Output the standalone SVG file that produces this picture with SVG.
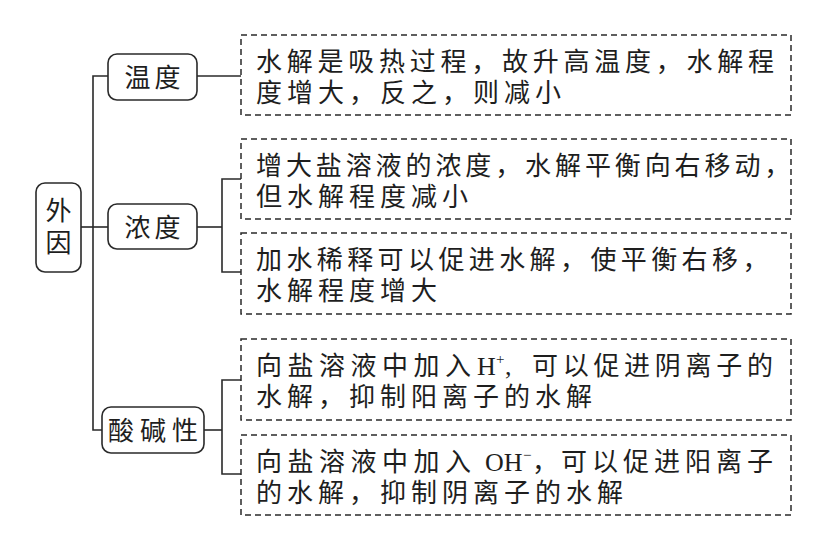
<svg xmlns="http://www.w3.org/2000/svg" width="818" height="546" viewBox="0 0 818 546">
<style>
  .bg { fill: #ffffff; }
  .lbl { fill: #ffffff; stroke: #2a2a2a; stroke-width: 1.6; }
  .dash { fill: none; stroke: #2a2a2a; stroke-width: 1.5; stroke-dasharray: 6 4; }
  .conn { fill: none; stroke: #2a2a2a; stroke-width: 1.6; }
  text { font-family: "Noto Sans CJK SC", "Noto Sans", sans-serif; font-size: 26px; fill: #1e1e1e; }
  .t { letter-spacing: 5px; }
  .mid { text-anchor: middle; }
  .lat { font-family: "Liberation Serif", "Times New Roman", serif; }
  .sup { font-family: "Liberation Serif", "Times New Roman", serif; font-size: 15px; }
</style>
<rect class="bg" x="0" y="0" width="818" height="546"/>

<g id="connectors">
  <path class="conn" d="M108,76 H93 V430 H102"/>
  <path class="conn" d="M81,227 H108"/>
  <path class="conn" d="M197,76 H241"/>
  <path class="conn" d="M197,227 H222"/>
  <path class="conn" d="M241,179 H222 V272 H241"/>
  <path class="conn" d="M204,430 H222"/>
  <path class="conn" d="M241,380 H222 V474 H241"/>
</g>

<g id="node-waiyin">
  <rect class="lbl" x="36" y="183" width="45" height="89" rx="9"/>
  <text class="mid" x="58.5" y="220">外</text>
  <text class="mid" x="58.5" y="252">因</text>
</g>

<g id="node-wendu">
  <rect class="lbl" x="108" y="54" width="89" height="46" rx="9"/>
  <text class="mid" x="154.5" y="87" style="letter-spacing:4px">温度</text>
</g>

<g id="node-nongdu">
  <rect class="lbl" x="108" y="204" width="89" height="45" rx="9"/>
  <text class="mid" x="154.5" y="237" style="letter-spacing:4px">浓度</text>
</g>

<g id="node-suanjianxing">
  <rect class="lbl" x="102" y="407" width="102" height="46" rx="9"/>
  <text class="mid" x="156" y="440" style="letter-spacing:6px">酸碱性</text>
</g>

<g id="box-1">
  <rect class="dash" x="241" y="35" width="550" height="80"/>
  <text x="256" y="71" style="letter-spacing:4.75px">水解是吸热过程，故升高温度，水解程</text>
  <text class="t" x="256" y="102">度增大，反之，则减小</text>
</g>

<g id="box-2">
  <rect class="dash" x="241" y="139" width="550" height="80"/>
  <text x="256" y="175" style="letter-spacing:3.9px">增大盐溶液的浓度，水解平衡向右移动，</text>
  <text class="t" x="256" y="206">但水解程度减小</text>
</g>

<g id="box-3">
  <rect class="dash" x="241" y="233" width="550" height="81"/>
  <text x="256" y="269" style="letter-spacing:4.4px">加水稀释可以促进水解，使平衡右移，</text>
  <text class="t" x="256" y="300">水解程度增大</text>
</g>

<g id="box-4">
  <rect class="dash" x="241" y="339" width="550" height="81"/>
  <text y="375"><tspan x="256" style="letter-spacing:5.5px">向盐溶液中加入</tspan><tspan class="lat" x="477" y="375">H</tspan><tspan class="sup" x="496" y="364">+</tspan><tspan class="lat" x="505" y="375">,</tspan><tspan x="532" y="375" style="letter-spacing:4.7px">可以促进阴离子的</tspan></text>
  <text class="t" x="256" y="406">水解，抑制阳离子的水解</text>
</g>

<g id="box-5">
  <rect class="dash" x="241" y="435" width="550" height="80"/>
  <text y="471"><tspan x="256" style="letter-spacing:5.5px">向盐溶液中加入</tspan><tspan class="lat" x="485" y="471">OH</tspan><tspan class="sup" x="523" y="460">−</tspan><tspan x="532" y="471">，</tspan><tspan x="561" y="471" style="letter-spacing:5px">可以促进阳离子</tspan></text>
  <text class="t" x="256" y="502">的水解，抑制阴离子的水解</text>
</g>
</svg>
